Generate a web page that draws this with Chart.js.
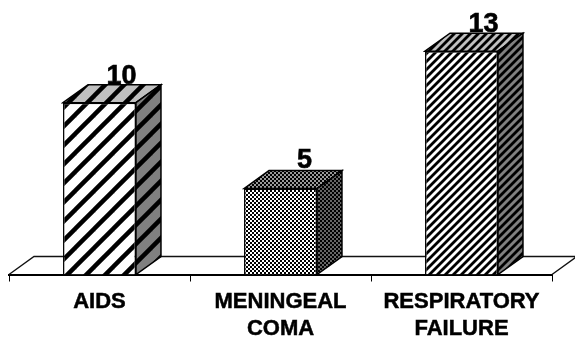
<!DOCTYPE html>
<html>
<head>
<meta charset="utf-8">
<style>
  html, body { margin: 0; padding: 0; background: #fff; }
  #wrap { width: 575px; height: 337px; }
</style>
<script src="https://cdn.jsdelivr.net/npm/chart.js@4"></script>
</head>
<body>
<div id="wrap"><canvas id="chart" width="575" height="337"></canvas></div>
<script>
const categories = [['AIDS'], ['MENINGEAL', 'COMA'], ['RESPIRATORY', 'FAILURE']];
const deaths = [10, 5, 13];

const depthX = 25;
const depthY = 18;
const valueFont = 'bold 27px "Liberation Sans", Arial, sans-serif';
// label offset from the middle of the bar front, per bar
const valueShift = [22, 24, 22];
const valueLift = [1, 3, 1];

function stripes(w, h, lw, bg) {
    const c = document.createElement('canvas');
    c.width = w;
    c.height = h;
    const g = c.getContext('2d');
    g.fillStyle = bg;
    g.fillRect(0, 0, w, h);
    g.strokeStyle = '#000';
    g.lineWidth = lw;
    g.lineCap = 'square';
    // run the line past the tile so that the joins stay clean
    for (let k = -2; k <= 2; k++) {
        g.beginPath();
        g.moveTo(k * w - w, 2 * h);
        g.lineTo(k * w + 2 * w, -h);
        g.stroke();
    }
    return g.createPattern(c, 'repeat');
}

function checker(cell, bg) {
    const c = document.createElement('canvas');
    c.width = cell * 2;
    c.height = cell * 2;
    const g = c.getContext('2d');
    g.fillStyle = bg;
    g.fillRect(0, 0, cell * 2, cell * 2);
    g.fillStyle = '#000';
    g.fillRect(0, 0, cell, cell);
    g.fillRect(cell, cell, cell, cell);
    return g.createPattern(c, 'repeat');
}

const frontFill = [stripes(19, 19, 4.5, '#fff'), checker(2, '#fff'), stripes(8, 8, 2.8, '#fff')];
const topFill = [stripes(19, 19, 4.5, '#c0c0c0'), checker(2, '#999'), stripes(8, 8, 2.8, '#c0c0c0')];
const sideFill = [stripes(19, 19, 4.5, '#808080'), checker(2, '#666'), stripes(8, 8, 2.8, '#808080')];

function poly(ctx, pts, fill) {
    ctx.beginPath();
    pts.forEach((p, i) => i ? ctx.lineTo(p[0], p[1]) : ctx.moveTo(p[0], p[1]));
    ctx.closePath();
    if (fill) {
        ctx.fillStyle = fill;
        ctx.fill();
    }
    ctx.stroke();
}

// back edge of the floor, behind the bars
const floorPlugin = {
    id: 'floor',
    beforeDatasetsDraw(chart) {
        const a = chart.chartArea;
        const ctx = chart.ctx;
        ctx.save();
        ctx.strokeStyle = '#111';
        ctx.lineWidth = 1.4;
        ctx.beginPath();
        ctx.moveTo(a.left, a.bottom);
        ctx.lineTo(a.left + depthX, a.bottom - depthY);
        ctx.lineTo(a.right + depthX, a.bottom - depthY);
        ctx.lineTo(a.right, a.bottom);
        ctx.stroke();
        ctx.restore();
    }
};

// top and side faces, then the value above each bar
const boxPlugin = {
    id: 'box',
    afterDatasetsDraw(chart) {
        const ctx = chart.ctx;
        const meta = chart.getDatasetMeta(0);
        meta.data.forEach((bar, i) => {
            const half = bar.width / 2;
            const l = bar.x - half;
            const r = bar.x + half;
            const t = bar.y;
            const b = bar.base;
            ctx.save();
            ctx.strokeStyle = '#000';
            ctx.lineWidth = 1.5;
            ctx.lineJoin = 'miter';
            poly(ctx, [[l, t], [l + depthX, t - depthY], [r + depthX, t - depthY], [r, t]], topFill[i]);
            poly(ctx, [[r, t], [r + depthX, t - depthY], [r + depthX, b - depthY], [r, b]], sideFill[i]);
            ctx.fillStyle = '#000';
            ctx.strokeStyle = '#000';
            ctx.lineWidth = 0.6;
            ctx.font = valueFont;
            ctx.textAlign = 'center';
            ctx.textBaseline = 'alphabetic';
            const vx = bar.x + valueShift[i];
            const vy = t - depthY - valueLift[i];
            ctx.fillText(String(deaths[i]), vx, vy);
            ctx.strokeText(String(deaths[i]), vx, vy);
            ctx.restore();
        });
    }
};

new Chart(document.getElementById('chart'), {
    type: 'bar',
    data: {
        labels: categories,
        datasets: [{
            data: deaths,
            backgroundColor: frontFill,
            borderColor: '#000',
            borderWidth: 1.5,
            barPercentage: 0.403,
            categoryPercentage: 1
        }]
    },
    options: {
        responsive: false,
        animation: false,
        layout: { padding: { left: 9, right: 23, top: 34, bottom: 0 } },
        plugins: { legend: { display: false }, tooltip: { enabled: false } },
        scales: {
            x: {
                offset: true,
                afterFit(scale) { scale.height = 62.5; },
                border: { display: true, color: '#000', width: 2 },
                grid: { display: true, drawOnChartArea: false, drawTicks: true, tickLength: 7, color: '#000', offset: true },
                ticks: {
                    color: '#000',
                    textStrokeColor: '#000',
                    textStrokeWidth: 0.5,
                    font: { family: '"Liberation Sans", Arial, sans-serif', size: 22, weight: 'bold', lineHeight: 1.27 },
                    maxRotation: 0,
                    autoSkip: false,
                    padding: 6
                }
            },
            y: {
                display: false,
                min: 0,
                max: 14
            }
        }
    },
    plugins: [floorPlugin, boxPlugin]
});
</script>
</body>
</html>
